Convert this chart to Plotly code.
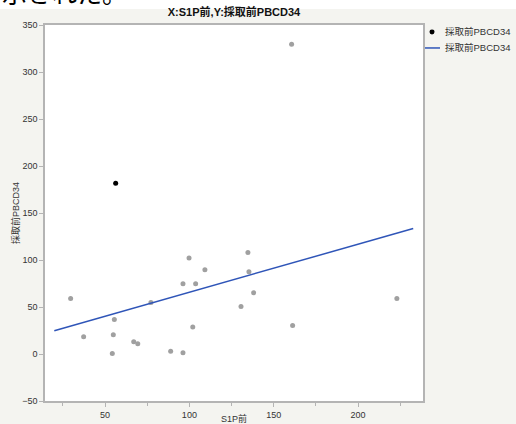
import plotly.graph_objects as go

# Scatter data (S1P前 vs 採取前PBCD34)
x_vals = [56.3, 29.6, 37.3, 55.5, 54.9, 54.3, 67.0, 69.4, 77.2, 88.9, 96.2, 96.2,
          99.8, 103.7, 102.0, 109.2, 134.7, 135.3, 138.1, 130.6, 161.2, 223.0, 160.6]
y_vals = [181.7, 59.1, 18.4, 36.8, 20.5, 0.6, 13.1, 10.9, 54.8, 2.8, 1.4, 74.7,
          102.0, 74.7, 28.7, 89.6, 108.0, 87.5, 65.1, 50.6, 30.4, 59.1, 329.4]
selected = [True] + [False] * 22

# Fit line endpoints
fit_x = [19.9, 232.7]
fit_y = [24.8, 133.5]

series_name = "採取前PBCD34"
title_text = "X:S1P前,Y:採取前PBCD34"
x_title = "S1P前"
y_title = "採取前PBCD34"
header_text = "示された。"

FONT = "Arial, 'Liberation Sans', 'Noto Sans CJK JP', sans-serif"
LINE_COLOR = "#2f55b8"

colors = ["#000000" if s else "#a0a0a0" for s in selected]

fig = go.Figure()
fig.add_trace(go.Scatter(
    x=x_vals, y=y_vals, mode="markers", name=series_name,
    marker=dict(color=colors, size=5), showlegend=False,
))
fig.add_trace(go.Scatter(
    x=fit_x, y=fit_y, mode="lines", name=series_name,
    line=dict(color=LINE_COLOR, width=1.5), showlegend=False,
))

W, H = 516, 424
L, R = 45, 423
T, B = 25, 401.5
pw = R - L
ph = B - T


def px(x):
    return (x - L) / pw


def py(y):
    return 1 - (y - T) / ph


shapes = [
    # plot area white background
    dict(type="rect", xref="paper", yref="paper", x0=0, x1=1, y0=0, y1=1,
         fillcolor="#ffffff", line=dict(width=0), layer="below"),
    # white strip at top of page
    dict(type="rect", xref="paper", yref="paper",
         x0=px(-5), x1=px(W + 5), y0=py(9), y1=py(-5),
         fillcolor="#ffffff", line=dict(width=0), layer="above"),
    # legend: marker
    dict(type="circle", xref="paper", yref="paper",
         x0=px(429.5), x1=px(434.5), y0=py(29.5), y1=py(34.5),
         fillcolor="#000000", line=dict(width=0), layer="above"),
    # legend: line
    dict(type="line", xref="paper", yref="paper",
         x0=px(425), x1=px(440), y0=py(48), y1=py(48),
         line=dict(color=LINE_COLOR, width=1.5), layer="above"),
]

annotations = [
    dict(text=header_text, xref="paper", yref="paper",
         x=px(0), xanchor="left", y=py(-8), yanchor="middle",
         showarrow=False,
         font=dict(size=25, color="#000000",
                   family="'Noto Sans CJK JP', sans-serif")),
    dict(text=series_name, xref="paper", yref="paper",
         x=px(443), xanchor="left", y=py(32), yanchor="middle",
         showarrow=False, font=dict(size=9.5, color="#333333", family=FONT)),
    dict(text=series_name, xref="paper", yref="paper",
         x=px(443), xanchor="left", y=py(48), yanchor="middle",
         showarrow=False, font=dict(size=9.5, color="#333333", family=FONT)),
]

fig.update_layout(
    width=W, height=H,
    margin=dict(l=L, r=W - R, t=T, b=H - B, autoexpand=False),
    paper_bgcolor="#f4f4f0",
    plot_bgcolor="#ffffff",
    font=dict(family=FONT, size=9, color="#333333"),
    title=dict(text="<b>" + title_text + "</b>", xref="paper", x=0.5,
               xanchor="center", yref="container", y=1 - 12 / H,
               yanchor="middle",
               font=dict(size=11, color="#111111", family=FONT)),
    showlegend=False,
    xaxis=dict(range=[14.4, 238.5], tickvals=[50, 100, 150, 200],
               showgrid=False, zeroline=False, automargin=False,
               showline=True, linecolor="#b4b4b4", linewidth=1.5, mirror=True,
               ticks="outside", ticklen=4, tickcolor="#b4b4b4",
               tickfont=dict(size=9, color="#333333"),
               minor=dict(tickvals=[25, 75, 125, 175, 225], ticks="outside",
                          ticklen=3, tickcolor="#b4b4b4"),
               title=dict(text=x_title, standoff=3, font=dict(size=9))),
    yaxis=dict(range=[-50, 350], dtick=50,
               showgrid=False, zeroline=False, automargin=False,
               showline=True, linecolor="#b4b4b4", linewidth=1.5, mirror=True,
               ticks="outside", ticklen=4, tickcolor="#b4b4b4",
               tickfont=dict(size=9, color="#333333"),
               title=dict(text=y_title, standoff=1, font=dict(size=9))),
    shapes=shapes,
    annotations=annotations,
)

fig.write_html("out.html",
               config={"displayModeBar": False},
               post_script="document.body.style.margin='0';"
                           "document.body.style.overflow='hidden';")
